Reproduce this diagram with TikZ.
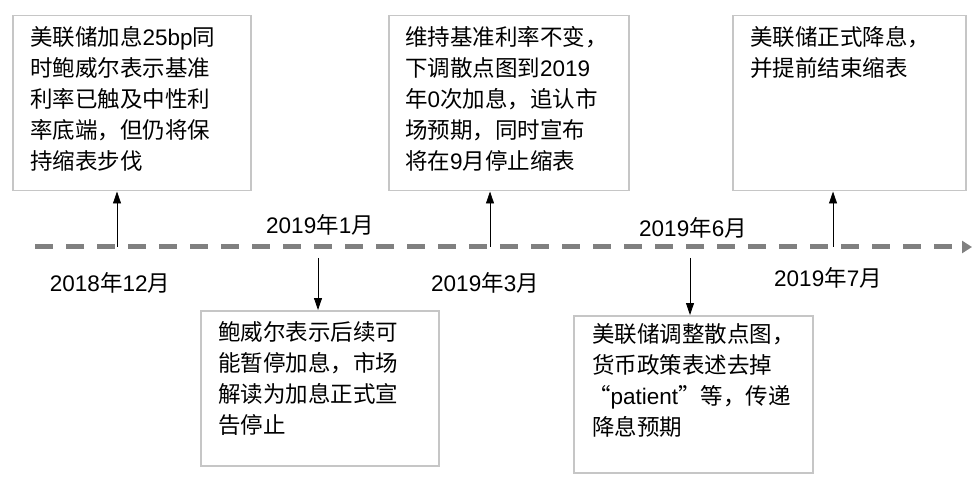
\documentclass[tikz,border=0pt]{standalone}
\usepackage{fontspec}
\setmainfont{Liberation Sans}
\newfontfamily\cjk{Noto Sans CJK SC}
\usetikzlibrary{arrows.meta,positioning}
\tikzset{
  evbox/.style={draw=gray!45,line width=1.5pt,minimum width=#1,inner sep=0pt},
  evtext/.style={anchor=north west,align=left,inner sep=0pt,font=\cjk\fontsize{22.5}{31}\selectfont},
  datelbl/.style={font=\cjk\fontsize{22.5}{24}\selectfont},
  evarrow/.style={-{Triangle[width=8pt,length=12pt]},line width=0.8pt}
}
\begin{document}
\begin{tikzpicture}[x=1pt,y=-1pt]
\useasboundingbox (0,0) rectangle (979,494);
% timeline
\coordinate (tl0) at (35,247);
\coordinate (tl1) at (972,247);
\draw[gray,line width=5pt,dash pattern=on 18pt off 13pt,-{Triangle[width=12pt,length=10pt]}] (tl0) -- (tl1);
% boxes
\node[evbox=238pt,minimum height=175pt,anchor=north west] (b1) at (12,15) {};
\node[evbox=238pt,minimum height=155pt,anchor=north west] (b2) at (200,310) {};
\node[evbox=240pt,minimum height=175pt,anchor=north west] (b3) at (388,15) {};
\node[evbox=239pt,minimum height=157pt,anchor=north west] (b4) at (573,315) {};
\node[evbox=233pt,minimum height=175pt,anchor=north west] (b5) at (732,15) {};
\node[evtext] (t1) at (30,26) {美联储加息\fontspec{Liberation Sans}25bp\cjk 同\\时鲍威尔表示基准\\利率已触及中性利\\率底端，但仍将保\\持缩表步伐};
\node[evtext] (t2) at (218,321) {鲍威尔表示后续可\\能暂停加息，市场\\解读为加息正式宣\\告停止};
\node[evtext] (t3) at (405,26) {维持基准利率不变，\\下调散点图到\fontspec{Liberation Sans}2019\\\cjk 年\fontspec{Liberation Sans}0\cjk 次加息，追认市\\场预期，同时宣布\\将在\fontspec{Liberation Sans}9\cjk 月停止缩表};
\node[evtext] (t4) at (592,323) {美联储调整散点图，\\货币政策表述去掉\\\hspace*{-4pt}“\fontspec{Liberation Sans}patient\cjk ”等，传递\\降息预期};
\node[evtext] (t5) at (750,26) {美联储正式降息，\\并提前结束缩表};
% dates
\node[datelbl] (d1) at (110,283) {\fontspec{Liberation Sans}2018\cjk 年\fontspec{Liberation Sans}12\cjk 月};
\node[datelbl] (d2) at (320,225) {\fontspec{Liberation Sans}2019\cjk 年\fontspec{Liberation Sans}1\cjk 月};
\node[datelbl] (d3) at (485,283) {\fontspec{Liberation Sans}2019\cjk 年\fontspec{Liberation Sans}3\cjk 月};
\node[datelbl] (d4) at (693,228) {\fontspec{Liberation Sans}2019\cjk 年\fontspec{Liberation Sans}6\cjk 月};
\node[datelbl] (d5) at (828,278) {\fontspec{Liberation Sans}2019\cjk 年\fontspec{Liberation Sans}7\cjk 月};
% connectors
\coordinate (a1) at (117,247);
\coordinate (a2) at (318,258);
\coordinate (a3) at (490,247);
\coordinate (a4) at (690,258);
\coordinate (a5) at (833,247);
\draw[evarrow] (a1) -- (a1 |- b1.south);
\draw[evarrow] (a2) -- (a2 |- b2.north);
\draw[evarrow] (a3) -- (a3 |- b3.south);
\draw[evarrow] (a4) -- (a4 |- b4.north);
\draw[evarrow] (a5) -- (a5 |- b5.south);
\end{tikzpicture}
\end{document}
